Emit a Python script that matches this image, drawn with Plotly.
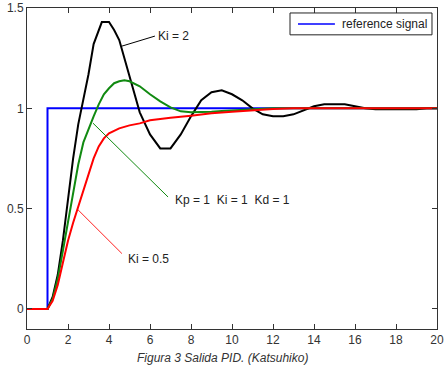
import plotly.graph_objects as go

# Reference step signal
t_ref = [0, 1, 1, 20]
y_ref = [0, 0, 1, 1]

# Ki = 2 (black)
t_ki2 = [0, 1, 1.25, 1.5, 1.75, 2.0, 2.25, 2.5, 2.75, 3.0, 3.25, 3.5, 3.65, 4.0, 4.25, 4.5, 4.75,
         5.0, 5.5, 6.0, 6.5, 7.0, 7.5, 8.0, 8.5, 9.0, 9.5, 10.0, 10.5, 11.0, 11.5, 12.0, 12.5,
         13.0, 13.5, 14.0, 14.5, 15.0, 15.5, 16.0, 16.5, 17.0, 19.0, 19.5, 20]
y_ki2 = [0, 0, 0.06, 0.17, 0.34, 0.55, 0.75, 0.92, 1.05, 1.17, 1.32, 1.39, 1.43, 1.43, 1.39, 1.34, 1.25,
         1.16, 0.98, 0.87, 0.80, 0.80, 0.87, 0.96, 1.04, 1.08, 1.09, 1.07, 1.04, 1.00, 0.97, 0.96, 0.96,
         0.97, 0.99, 1.01, 1.02, 1.02, 1.02, 1.01, 1.00, 0.995, 0.995, 1.0, 1.0]

# Kp = 1, Ki = 1, Kd = 1 (green)
t_pid = [0, 1, 1.25, 1.5, 1.75, 2.0, 2.25, 2.5, 2.75, 3.0, 3.25, 3.5, 3.75, 4.0, 4.25, 4.5, 4.75,
         5.0, 5.5, 6.0, 6.5, 7.0, 7.5, 8.0, 8.5, 9.0, 9.5, 10.0, 11.0, 12.0, 20]
y_pid = [0, 0, 0.05, 0.15, 0.29, 0.43, 0.58, 0.72, 0.83, 0.90, 0.96, 1.02, 1.07, 1.10, 1.125, 1.135, 1.14,
         1.135, 1.11, 1.07, 1.035, 1.005, 0.985, 0.98, 0.98, 0.983, 0.987, 0.99, 0.997, 1.0, 1.0]

# Ki = 0.5 (red)
t_ki05 = [0, 1, 1.25, 1.5, 1.75, 2.0, 2.25, 2.5, 2.75, 3.0, 3.25, 3.5, 3.75, 4.0, 4.5, 5.0, 5.5,
          6.0, 6.5, 7.0, 8.0, 9.0, 10.0, 11.0, 12.0, 13.0, 20]
y_ki05 = [0, 0, 0.04, 0.12, 0.23, 0.34, 0.43, 0.51, 0.60, 0.68, 0.75, 0.81, 0.85, 0.875, 0.90, 0.915, 0.925,
          0.94, 0.947, 0.953, 0.963, 0.975, 0.983, 0.99, 0.997, 1.0, 1.0]

x_ticks = [0, 2, 4, 6, 8, 10, 12, 14, 16, 18, 20]
y_ticks = [0, 0.5, 1, 1.5]
y_tick_labels = ["0", "0.5", "1", "1.5"]

FONT = "Liberation Sans, Arial, sans-serif"
BLUE = "#0000ff"

fig = go.Figure()
fig.add_trace(go.Scatter(x=t_ref, y=y_ref, mode="lines", name="reference signal",
                         showlegend=False, line=dict(color=BLUE, width=2)))
fig.add_trace(go.Scatter(x=t_ki2, y=y_ki2, mode="lines", showlegend=False,
                         line=dict(color="#000000", width=2)))
fig.add_trace(go.Scatter(x=t_pid, y=y_pid, mode="lines", showlegend=False,
                         line=dict(color="#118a11", width=2)))
fig.add_trace(go.Scatter(x=t_ki05, y=y_ki05, mode="lines", showlegend=False,
                         line=dict(color="#ff0000", width=2)))

# annotation leader lines
leaders = [
    (4.63, 1.31, 6.24, 1.36, "#000000"),
    (3.22, 0.926, 6.88, 0.558, "#118a11"),
    (2.49, 0.494, 4.63, 0.276, "#ff2020"),
]
for x0, y0, x1, y1, c in leaders:
    fig.add_shape(type="line", x0=x0, y0=y0, x1=x1, y1=y1, xref="x", yref="y",
                  line=dict(color=c, width=1))

labels = [
    (6.3, 1.36, "Ki = 2"),
    (7.1, 0.545, "Kp = 1\u00a0\u00a0Ki = 1\u00a0\u00a0Kd = 1"),
    (4.85, 0.25, "Ki = 0.5"),
]
for x, y, txt in labels:
    fig.add_annotation(x=x, y=y, xref="x", yref="y", text=txt, showarrow=False,
                       xanchor="left", yanchor="middle",
                       font=dict(family=FONT, size=12, color="#222222"))

# MATLAB-style legend box (drawn in paper coordinates)
fig.add_shape(type="rect", xref="paper", yref="paper", x0=0.6415, x1=0.9878, y0=0.9164, y1=0.9845,
              line=dict(color="#222222", width=1), fillcolor="white", layer="above")
fig.add_shape(type="line", xref="paper", yref="paper", x0=0.661, x1=0.751, y0=0.9505, y1=0.9505,
              line=dict(color=BLUE, width=1.5), layer="above")
fig.add_annotation(x=0.7634, y=0.9505, xref="paper", yref="paper", text="reference signal",
                   showarrow=False, xanchor="left", yanchor="middle",
                   font=dict(family=FONT, size=12, color="#222222"))

fig.add_annotation(x=0.476, y=-0.09, xref="paper", yref="paper",
                   text="<i>Figura 3 Salida PID. (Katsuhiko)</i>", showarrow=False,
                   xanchor="center", yanchor="middle",
                   font=dict(family=FONT, size=12, color="#333333"))

fig.update_layout(
    width=444, height=373,
    margin=dict(l=27, r=7, t=8, b=44),
    paper_bgcolor="white", plot_bgcolor="white",
    font=dict(family=FONT, size=12, color="#333333"),
    showlegend=False,
)
fig.update_xaxes(range=[0, 20], tickvals=x_ticks, ticks="inside", ticklen=5,
                 showline=True, linecolor="#333333", linewidth=1, mirror="ticks",
                 tickcolor="#333333", showgrid=False, zeroline=False,
                 ticklabeloverflow="allow", automargin=False,
                 tickfont=dict(family=FONT, size=12, color="#333333"))
fig.update_yaxes(range=[-0.1, 1.5], tickvals=y_ticks, ticktext=y_tick_labels,
                 ticks="inside", ticklen=5,
                 showline=True, linecolor="#333333", linewidth=1, mirror="ticks",
                 tickcolor="#333333", showgrid=False, zeroline=False,
                 ticklabeloverflow="allow", automargin=False,
                 tickfont=dict(family=FONT, size=12, color="#333333"))

fig.write_html("out.html")
